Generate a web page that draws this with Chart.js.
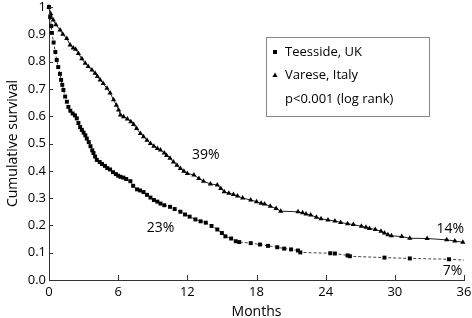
<!DOCTYPE html>
<html>
<head>
<meta charset="utf-8">
<script src="https://cdn.jsdelivr.net/npm/chart.js@4.4.1/dist/chart.umd.min.js"></script>
<style>
  html, body { margin: 0; padding: 0; background: #fff; }
  #wrap { width: 472px; height: 318px; }
</style>
</head>
<body>
<div id="wrap"><canvas id="kmChart" width="472" height="318"></canvas></div>
<script>
// survival curves (months, cumulative survival)
const teessideMonths = [0, 0.1, 0.2, 0.25, 0.4, 0.55, 0.67, 0.8, 0.95, 1.05, 1.15, 1.25, 1.4, 1.55, 1.68, 1.85, 2.05, 2.25, 2.41, 2.55, 2.7, 2.85, 3.0, 3.15, 3.28, 3.45, 3.6, 3.75, 3.86, 4.0, 4.15, 4.4, 4.6, 4.85, 5.05, 5.3, 5.55, 5.8, 6.0, 6.2, 6.45, 6.7, 7.06, 7.3, 7.64, 7.9, 8.2, 8.5, 8.8, 9.1, 9.4, 9.67, 10.0, 10.5, 10.9, 11.4, 11.8, 12.2, 12.7, 13.15, 13.6, 14.1, 14.6, 15.0, 15.3, 15.8, 16.2, 16.5, 17.5, 18.3, 19.0, 19.8, 20.4, 21.0, 21.6, 21.8, 24.4, 24.8, 25.9, 26.1, 29.1, 31.3, 34.7, 36];
const teessideSurvival = [1.0, 0.963, 0.93, 0.905, 0.87, 0.835, 0.806, 0.78, 0.755, 0.733, 0.715, 0.696, 0.672, 0.653, 0.634, 0.62, 0.61, 0.603, 0.592, 0.575, 0.56, 0.55, 0.54, 0.53, 0.518, 0.505, 0.49, 0.475, 0.465, 0.452, 0.44, 0.432, 0.425, 0.418, 0.41, 0.405, 0.395, 0.388, 0.382, 0.378, 0.375, 0.37, 0.362, 0.345, 0.332, 0.328, 0.322, 0.312, 0.302, 0.293, 0.287, 0.28, 0.274, 0.268, 0.26, 0.25, 0.24, 0.232, 0.222, 0.215, 0.21, 0.198, 0.185, 0.172, 0.16, 0.152, 0.142, 0.139, 0.135, 0.13, 0.125, 0.12, 0.115, 0.112, 0.108, 0.101, 0.098, 0.097, 0.09, 0.087, 0.082, 0.079, 0.076, 0.073];

const vareseMonths = [0, 0.15, 0.37, 0.6, 0.96, 1.2, 1.54, 1.83, 2.1, 2.3, 2.55, 2.85, 3.14, 3.4, 3.72, 4.0, 4.2, 4.44, 4.7, 5.03, 5.3, 5.6, 5.85, 6.04, 6.2, 6.47, 6.8, 7.1, 7.34, 7.6, 7.93, 8.2, 8.5, 8.8, 9.1, 9.4, 9.67, 10.0, 10.2, 10.5, 10.8, 11.1, 11.4, 11.7, 12.0, 12.57, 13.0, 13.4, 14.0, 14.6, 14.9, 15.2, 15.6, 16.0, 16.35, 16.8, 17.5, 18.0, 18.4, 18.7, 19.2, 19.7, 20.1, 21.6, 22.0, 22.3, 22.7, 23.2, 23.6, 24.2, 24.8, 25.3, 25.9, 26.4, 27.1, 27.5, 27.8, 28.3, 28.8, 29.1, 29.4, 29.7, 30.6, 31.3, 32.8, 34.5, 35.2, 35.9];
const vareseSurvival = [1.0, 0.975, 0.952, 0.935, 0.916, 0.9, 0.885, 0.861, 0.85, 0.845, 0.83, 0.81, 0.794, 0.782, 0.769, 0.757, 0.745, 0.733, 0.72, 0.702, 0.685, 0.66, 0.64, 0.623, 0.604, 0.598, 0.59, 0.58, 0.57, 0.555, 0.537, 0.525, 0.512, 0.5, 0.49, 0.482, 0.476, 0.465, 0.456, 0.446, 0.432, 0.42, 0.408, 0.398, 0.39, 0.385, 0.372, 0.362, 0.352, 0.348, 0.335, 0.323, 0.318, 0.313, 0.308, 0.3, 0.293, 0.287, 0.281, 0.278, 0.27, 0.262, 0.252, 0.25, 0.246, 0.242, 0.238, 0.23, 0.224, 0.22, 0.216, 0.211, 0.206, 0.203, 0.197, 0.193, 0.189, 0.185, 0.179, 0.172, 0.166, 0.162, 0.159, 0.153, 0.152, 0.147, 0.143, 0.138];

const seriesNames = ['Teesside, UK', 'Varese, Italy'];
const testNote = 'p<0.001 (log rank)';
const monthTicks = [0, 6, 12, 18, 24, 30, 36];
const survivalTicks = [0, 0.1, 0.2, 0.3, 0.4, 0.5, 0.6, 0.7, 0.8, 0.9, 1];
const percentLabels = ['39%', '23%', '14%', '7%'];

const FONT = "'Open Sans', sans-serif";
Chart.defaults.font.family = FONT;
Chart.defaults.color = '#000';

const toPoints = (xs, ys) => xs.map((m, i) => ({ x: m, y: ys[i] }));

// inward tick marks on both axes
const inwardTicks = {
  id: 'inwardTicks',
  afterDraw(chart) {
    const { ctx, scales: { x, y }, chartArea } = chart;
    ctx.save();
    ctx.strokeStyle = '#333';
    ctx.lineWidth = 1;
    ctx.beginPath();
    monthTicks.forEach(v => {
      const px = Math.round(x.getPixelForValue(v)) + 0.5;
      ctx.moveTo(px, chartArea.bottom);
      ctx.lineTo(px, chartArea.bottom - 5);
    });
    survivalTicks.forEach(v => {
      const py = Math.round(y.getPixelForValue(v)) + 0.5;
      ctx.moveTo(chartArea.left, py);
      ctx.lineTo(chartArea.left + 4, py);
    });
    ctx.stroke();
    ctx.restore();
  }
};

// the boxed key and the percentage notes
const notes = {
  id: 'notes',
  afterDatasetsDraw(chart) {
    const { ctx, scales: { x, y } } = chart;
    ctx.save();
    ctx.fillStyle = '#000';
    ctx.font = '14px ' + FONT;
    ctx.textAlign = 'center';
    ctx.textBaseline = 'middle';
    const spots = [[13.6, 0.458], [9.67, 0.19], [34.8, 0.187], [35.0, 0.034]];
    percentLabels.forEach((t, i) => {
      ctx.fillText(t, x.getPixelForValue(spots[i][0]), y.getPixelForValue(spots[i][1]));
    });

    // key box
    ctx.strokeStyle = '#888';
    ctx.lineWidth = 1;
    ctx.strokeRect(266.5, 37.5, 163, 79);
    ctx.font = '13px ' + FONT;
    ctx.textAlign = 'left';
    ctx.fillRect(273, 50, 4, 4);
    ctx.beginPath();
    ctx.moveTo(275, 72.5);
    ctx.lineTo(277.6, 77);
    ctx.lineTo(272.4, 77);
    ctx.closePath();
    ctx.fill();
    ctx.fillText(seriesNames[0], 285, 52);
    ctx.fillText(seriesNames[1], 285, 75);
    ctx.fillText(testNote, 285, 99);
    ctx.restore();
  }
};

new Chart(document.getElementById('kmChart'), {
  type: 'line',
  data: {
    datasets: [{
      label: seriesNames[0],
      data: toPoints(teessideMonths, teessideSurvival),
      borderColor: '#444',
      borderWidth: 1,
      borderDash: [3, 2],
      pointStyle: 'rect',
      pointRadius: ctx => ctx.dataIndex === teessideMonths.length - 1 ? 0 : 2.8,
      pointBackgroundColor: '#000',
      pointBorderColor: '#000',
      pointBorderWidth: 0,
      tension: 0,
      clip: 6
    }, {
      label: seriesNames[1],
      data: toPoints(vareseMonths, vareseSurvival),
      borderColor: '#222',
      borderWidth: 1,
      pointStyle: 'triangle',
      pointRadius: 3,
      pointBackgroundColor: '#000',
      pointBorderColor: '#000',
      pointBorderWidth: 0,
      tension: 0,
      clip: 6
    }]
  },
  options: {
    responsive: false,
    animation: false,
    devicePixelRatio: 1,
    layout: { padding: { top: 7, right: 8, left: 0, bottom: 0 } },
    plugins: {
      legend: { display: false },
      tooltip: { enabled: false }
    },
    scales: {
      x: {
        type: 'linear',
        min: 0,
        max: 36,
        afterFit: s => { s.height = 38; s.paddingRight = 0; s.paddingLeft = 0; },
        afterBuildTicks: s => { s.ticks = monthTicks.map(v => ({ value: v })); },
        grid: { display: false, drawTicks: false },
        border: { display: true, color: '#333', width: 1 },
        ticks: { padding: 4, font: { size: 13 }, color: '#000' },
        title: {
          display: true,
          text: 'Months',
          font: { size: 14 },
          color: '#000',
          padding: { top: 0, bottom: -2 }
        }
      },
      y: {
        type: 'linear',
        min: 0,
        max: 1,
        afterFit: s => { s.width = 49; s.paddingTop = 0; s.paddingBottom = 0; },
        afterBuildTicks: s => { s.ticks = survivalTicks.map(v => ({ value: v })); },
        grid: { display: false, drawTicks: false },
        border: { display: true, color: '#333', width: 1 },
        ticks: {
          padding: 3,
          font: { size: 13 },
          color: '#000',
          callback: v => v === 0 ? '0.0' : (v === 1 ? '1' : v.toFixed(1))
        },
        title: {
          display: true,
          text: 'Cumulative survival',
          font: { size: 14 },
          color: '#000',
          padding: { top: 5, bottom: 0 }
        }
      }
    }
  },
  plugins: [inwardTicks, notes]
});
</script>
</body>
</html>
